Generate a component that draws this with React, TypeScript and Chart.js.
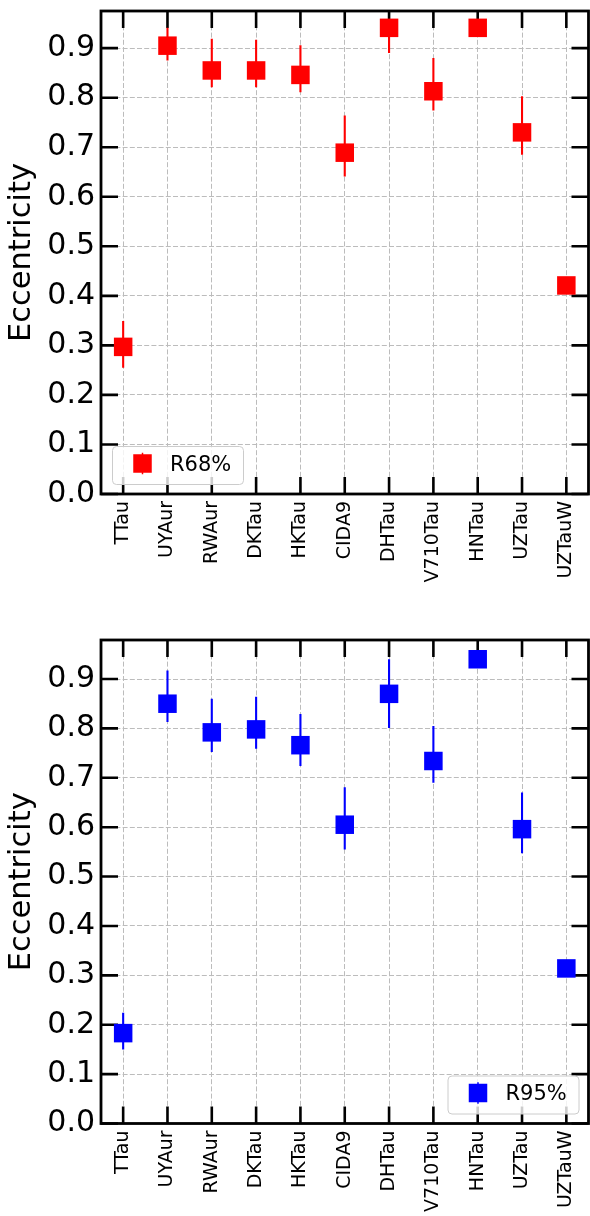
import { useEffect, useRef } from "react";
import { Chart, registerables } from "chart.js";

Chart.register(...registerables);

// Stars along the x axis
const stars = [
  "TTau", "UYAur", "RWAur", "DKTau", "HKTau", "CIDA9",
  "DHTau", "V710Tau", "HNTau", "UZTau", "UZTauW",
];

// Tick values for the eccentricity axis
const eccTicks = [0, 0.1, 0.2, 0.3, 0.4, 0.5, 0.6, 0.7, 0.8, 0.9];

// R68% eccentricities with upper and lower bounds
const r68Ecc = [0.297, 0.905, 0.855, 0.855, 0.846, 0.689, 0.941, 0.813, 0.941, 0.73, 0.421];
const r68Upper = [0.349, 0.941, 0.919, 0.917, 0.906, 0.764, 0.955, 0.88, 0.941, 0.803, 0.421];
const r68Lower = [0.255, 0.875, 0.821, 0.821, 0.811, 0.641, 0.89, 0.774, 0.941, 0.685, 0.421];

// R95% eccentricities with upper and lower bounds
const r95Ecc = [0.183, 0.85, 0.792, 0.798, 0.766, 0.605, 0.87, 0.734, 0.94, 0.596, 0.314];
const r95Upper = [0.224, 0.917, 0.86, 0.864, 0.829, 0.681, 0.94, 0.805, 0.94, 0.67, 0.314];
const r95Lower = [0.15, 0.813, 0.752, 0.759, 0.724, 0.555, 0.801, 0.69, 0.94, 0.547, 0.314];

const FONT = "'DejaVu Sans', sans-serif";
const GRID = "#bcbcbc";
const W = 590;
const H = 608;
const TICK = 17;
const MARKER = 18.5;

type PanelProps = {
  name: string;
  color: string;
  values: number[];
  upper: number[];
  lower: number[];
  yMax: number;
  areaTop: number;
  areaBottom: number;
  legendSide: "left" | "right";
};

// keep the chart area exactly where the layout padding puts it
function noEdgePadding(s: any) {
  s.paddingLeft = 0;
  s.paddingRight = 0;
  s.paddingTop = 0;
  s.paddingBottom = 0;
}

function Panel(p: PanelProps) {
  const ref = useRef<HTMLCanvasElement>(null);

  useEffect(() => {
    const canvas = ref.current;
    if (!canvas) return;

    const decor = {
      id: "decor",
      beforeDatasetsDraw(chart: any) {
        const { ctx, chartArea: a, scales } = chart;
        const xs = scales.x;
        const ys = scales.y;
        ctx.save();
        // inward ticks on all four sides
        ctx.strokeStyle = "#000";
        ctx.lineWidth = 2.6;
        ctx.beginPath();
        xs.ticks.forEach((_: any, i: number) => {
          const px = xs.getPixelForTick(i);
          ctx.moveTo(px, a.top);
          ctx.lineTo(px, a.top + TICK);
          ctx.moveTo(px, a.bottom);
          ctx.lineTo(px, a.bottom - TICK);
        });
        ys.ticks.forEach((t: any) => {
          const py = ys.getPixelForValue(t.value);
          ctx.moveTo(a.left, py);
          ctx.lineTo(a.left + TICK, py);
          ctx.moveTo(a.right, py);
          ctx.lineTo(a.right - TICK, py);
        });
        ctx.stroke();
        // error bars
        const meta = chart.getDatasetMeta(0);
        ctx.beginPath();
        ctx.rect(a.left, a.top, a.right - a.left, a.bottom - a.top);
        ctx.clip();
        ctx.strokeStyle = p.color;
        ctx.lineWidth = 2.1;
        ctx.beginPath();
        meta.data.forEach((pt: any, i: number) => {
          ctx.moveTo(pt.x, ys.getPixelForValue(p.upper[i]));
          ctx.lineTo(pt.x, ys.getPixelForValue(p.lower[i]));
        });
        ctx.stroke();
        ctx.restore();
      },
      afterDatasetsDraw(chart: any) {
        const { ctx, chartArea: a } = chart;
        ctx.save();
        // frame
        ctx.strokeStyle = "#000";
        ctx.lineWidth = 2.8;
        ctx.strokeRect(a.left, a.top, a.right - a.left, a.bottom - a.top);

        // legend
        const bw = 131;
        const bh = 38;
        const bx = p.legendSide === "left" ? a.left + 11 : a.right - 10 - bw;
        const by = a.bottom - 10 - bh;
        ctx.beginPath();
        ctx.roundRect(bx + 0.5, by + 0.5, bw, bh, 4);
        ctx.fillStyle = "rgba(255,255,255,0.8)";
        ctx.fill();
        ctx.strokeStyle = "#cccccc";
        ctx.lineWidth = 1;
        ctx.stroke();

        const mx = bx + 30.5;
        const my = by + 17.5;
        ctx.fillStyle = p.color;
        ctx.fillRect(mx - MARKER / 2, my - MARKER / 2, MARKER, MARKER);
        ctx.strokeStyle = p.color;
        ctx.lineWidth = 1.5;
        ctx.beginPath();
        ctx.moveTo(mx, my - MARKER / 2 - 1.5);
        ctx.lineTo(mx, my + MARKER / 2 + 1.5);
        ctx.stroke();

        ctx.fillStyle = "#000";
        ctx.font = `21px ${FONT}`;
        ctx.textAlign = "left";
        ctx.textBaseline = "alphabetic";
        ctx.fillText(p.name, bx + 58, by + 24.5);
        ctx.restore();
      },
    };

    const chart = new Chart(canvas, {
      type: "line",
      data: {
        labels: stars,
        datasets: [
          {
            label: p.name,
            data: p.values,
            showLine: false,
            pointStyle: "rect",
            pointRadius: MARKER / Math.SQRT2,
            pointHoverRadius: MARKER / Math.SQRT2,
            pointBackgroundColor: p.color,
            pointBorderColor: p.color,
            pointBorderWidth: 0,
            clip: false,
          } as any,
        ],
      },
      options: {
        responsive: false,
        animation: false,
        devicePixelRatio: 1,
        events: [],
        layout: {
          autoPadding: false,
          padding: { left: 0, right: 1.5, top: p.areaTop, bottom: 0 },
        },
        plugins: { legend: { display: false }, tooltip: { enabled: false } },
        scales: {
          x: {
            type: "category",
            offset: true,
            grid: { offset: false, color: GRID, lineWidth: 1, drawTicks: false },
            border: { display: false, dash: [5, 2.2] },
            ticks: {
              color: "#000",
              font: { family: FONT, size: 19 },
              minRotation: 90,
              maxRotation: 90,
              autoSkip: false,
              padding: 7,
            },
            afterFit(s: any) {
              s.height = H - p.areaBottom;
              noEdgePadding(s);
            },
          },
          y: {
            type: "linear",
            min: 0,
            max: p.yMax,
            afterBuildTicks(s: any) {
              s.ticks = eccTicks.map((v) => ({ value: v }));
            },
            grid: { color: GRID, lineWidth: 1, drawTicks: false },
            border: { display: false, dash: [5, 2.2] },
            ticks: {
              color: "#000",
              font: { family: FONT, size: 30 },
              padding: 6,
              callback: (v: any) => Number(v).toFixed(1),
            },
            title: {
              display: true,
              text: "Eccentricity",
              color: "#000",
              font: { family: FONT, size: 30.5 },
              padding: { top: 4, bottom: 0 },
            },
            afterFit(s: any) {
              s.width = 101;
              noEdgePadding(s);
            },
          },
        },
      },
      plugins: [decor],
    });

    return () => chart.destroy();
  }, [p]);

  return <canvas ref={ref} width={W} height={H} style={{ display: "block", width: W, height: H }} />;
}

const topPanel: PanelProps = {
  name: "R68%",
  color: "#ff0000",
  values: r68Ecc,
  upper: r68Upper,
  lower: r68Lower,
  yMax: 0.975,
  areaTop: 11,
  areaBottom: 494,
  legendSide: "left",
};

const bottomPanel: PanelProps = {
  name: "R95%",
  color: "#0000ff",
  values: r95Ecc,
  upper: r95Upper,
  lower: r95Lower,
  yMax: 0.979,
  areaTop: 32,
  areaBottom: 515.5,
  legendSide: "right",
};

export default function App() {
  return (
    <div
      style={{
        position: "absolute",
        left: 0,
        top: 0,
        width: W,
        height: H * 2,
        background: "#fff",
        overflow: "hidden",
      }}
    >
      <Panel {...topPanel} />
      <Panel {...bottomPanel} />
    </div>
  );
}
